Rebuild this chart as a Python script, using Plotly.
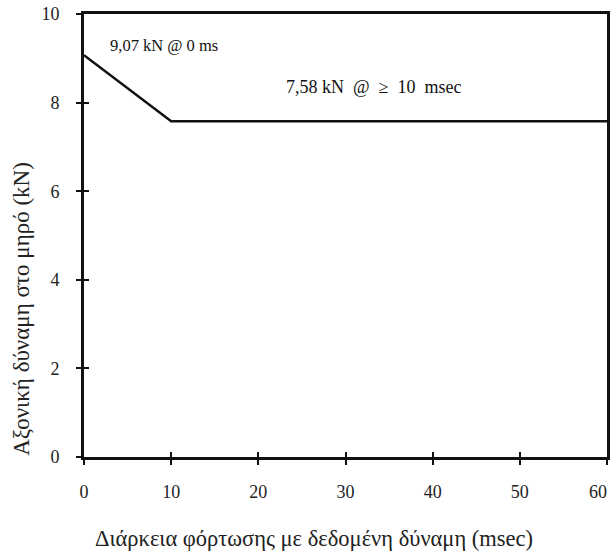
import plotly.graph_objects as go

time_ms = [0, 10, 60]
force_kN = [9.07, 7.58, 7.58]
x_ticks = [0, 10, 20, 30, 40, 50, 60]
x_tick_text = ["0", "10", "20", "30", "40", "50", ""]
last_x_label = "60"
y_ticks = [0, 2, 4, 6, 8, 10]
label_a = "9,07 kN @ 0 ms"
label_b = "7,58 kN\u00a0 @\u00a0 ≥\u00a0 10\u00a0 msec"
x_title = "Διάρκεια φόρτωσης με δεδομένη δύναμη (msec)"
y_title = "Αξονική δύναμη στο μηρό (kN)"

serif = "Liberation Serif, Times New Roman, serif"

fig = go.Figure()
fig.add_trace(go.Scatter(x=time_ms, y=force_kN, mode="lines",
                         line=dict(color="#111", width=2.5), showlegend=False))

axis_common = dict(showgrid=False, zeroline=False, showline=True, linecolor="#111",
                   linewidth=3, mirror=True, ticks="outside", ticklen=5, tickwidth=2,
                   tickcolor="#111", automargin=False, ticklabeloverflow="allow",
                   tickfont=dict(family=serif, size=18, color="#222"))

fig.update_xaxes(range=[0, 60], tickvals=x_ticks, ticktext=x_tick_text,
                 ticklabelstandoff=11, **axis_common)
fig.update_yaxes(range=[0, 10], tickvals=y_ticks, ticklabelstandoff=13, **axis_common)

# inner halves of the crossing tick marks
fig.update_layout(
    xaxis2=dict(overlaying="x", range=[0, 60], tickvals=x_ticks, ticks="inside",
                ticklen=5, tickwidth=2, tickcolor="#111", showticklabels=False,
                showgrid=False, zeroline=False, showline=False, anchor="y"),
    yaxis2=dict(overlaying="y", range=[0, 10], tickvals=y_ticks, ticks="inside",
                ticklen=5, tickwidth=2, tickcolor="#111", showticklabels=False,
                showgrid=False, zeroline=False, showline=False, anchor="x"),
)
fig.add_trace(go.Scatter(x=[], y=[], xaxis="x2", yaxis="y2", showlegend=False,
                         hoverinfo="skip"))

# last x tick label, nudged left so it stays inside the page
fig.add_annotation(x=x_ticks[-1], xref="x", y=0, yref="paper", yanchor="top",
                   yshift=-23, xshift=-9, text=last_x_label, showarrow=False,
                   font=dict(family=serif, size=18, color="#222"))

fig.add_annotation(x=2.75, y=9.3, text=label_a, showarrow=False, xanchor="left",
                   font=dict(family=serif, size=16.5, color="#111"))
fig.add_annotation(x=23.0, y=8.35, text=label_b, showarrow=False, xanchor="left",
                   font=dict(family=serif, size=18, color="#111"))

fig.add_annotation(xref="paper", yref="paper", x=0.439, y=-0.185, yanchor="middle",
                   text=x_title, showarrow=False,
                   font=dict(family=serif, size=22.5, color="#222"))
fig.add_annotation(xref="paper", yref="paper", x=-0.12, y=0.335, textangle=-90,
                   text=y_title, showarrow=False, xanchor="center",
                   font=dict(family=serif, size=23, color="#222"))

fig.update_layout(width=611, height=554, plot_bgcolor="white", paper_bgcolor="white",
                  margin=dict(l=84, r=4, t=14, b=97, autoexpand=False))
fig.write_html("out.html", config={"displayModeBar": False},
               post_script="document.body.style.margin='0';document.body.style.padding='0';")
